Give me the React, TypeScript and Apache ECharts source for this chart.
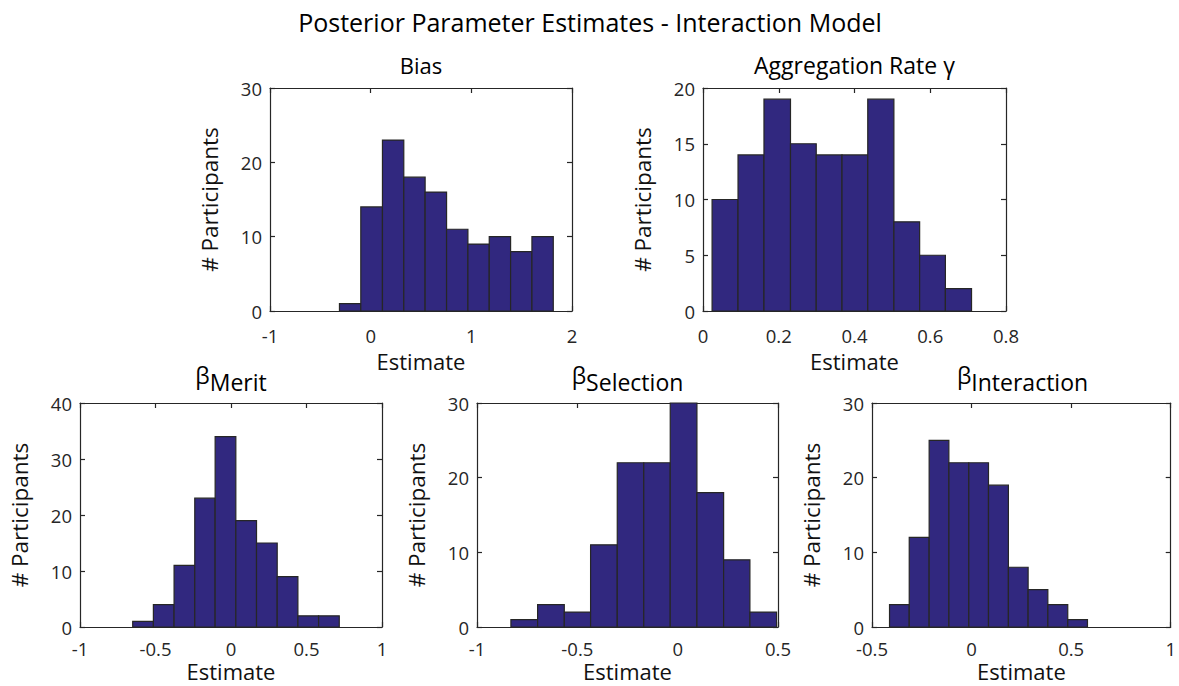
import React, { useEffect, useRef } from "react";
import * as echarts from "echarts";

const FONT = "'Open Sans', 'Noto Sans', sans-serif";
const BAR_FILL = "#31287f";
const BAR_EDGE = "#262626";
const AXIS_COLOR = "#262626";

// Panel titles
const mainTitle = "Posterior Parameter Estimates - Interaction Model";
const panelTitles = ["Bias", "Aggregation Rate γ"];
const betaSubscripts = ["Merit", "Selection", "Interaction"];

// Histogram bin edges and counts
const biasEdges = [-0.31, -0.098, 0.117, 0.329, 0.541, 0.754, 0.966, 1.178, 1.39, 1.602, 1.814];
const biasCounts = [1, 14, 23, 18, 16, 11, 9, 10, 8, 10];

const aggEdges = [0.024, 0.0925, 0.161, 0.231, 0.299, 0.367, 0.435, 0.504, 0.572, 0.64, 0.709];
const aggCounts = [10, 14, 19, 15, 14, 14, 19, 8, 5, 2];

const meritEdges = [-0.651, -0.514, -0.377, -0.24, -0.105, 0.032, 0.169, 0.306, 0.443, 0.58, 0.717];
const meritCounts = [1, 4, 11, 23, 34, 19, 15, 9, 2, 2];

const selectionEdges = [-0.831, -0.698, -0.565, -0.434, -0.301, -0.169, -0.037, 0.096, 0.229, 0.36, 0.493];
const selectionCounts = [1, 3, 2, 11, 22, 22, 30, 18, 9, 2];

const interactionEdges = [-0.412, -0.313, -0.213, -0.114, -0.014, 0.085, 0.185, 0.284, 0.383, 0.483, 0.582];
const interactionCounts = [3, 12, 25, 22, 22, 19, 8, 5, 3, 1];

// Axis ranges
const xRanges = [
  { min: -1, max: 2, interval: 1 },
  { min: 0, max: 0.8, interval: 0.2 },
  { min: -1, max: 1, interval: 0.5 },
  { min: -1, max: 0.5, interval: 0.5 },
  { min: -0.5, max: 1, interval: 0.5 },
];
const yRanges = [
  { min: 0, max: 30, interval: 10 },
  { min: 0, max: 20, interval: 5 },
  { min: 0, max: 40, interval: 10 },
  { min: 0, max: 30, interval: 10 },
  { min: 0, max: 30, interval: 10 },
];

const grids = [
  { left: 270, top: 88, width: 302, height: 223 },
  { left: 703, top: 88, width: 303, height: 223 },
  { left: 80, top: 403, width: 302, height: 224 },
  { left: 477, top: 403, width: 301, height: 224 },
  { left: 872, top: 403, width: 301, height: 224 },
];

const hists = [
  [biasEdges, biasCounts],
  [aggEdges, aggCounts],
  [meritEdges, meritCounts],
  [selectionEdges, selectionCounts],
  [interactionEdges, interactionCounts],
];

function buildOption() {
  const xAxis: any[] = [];
  const yAxis: any[] = [];
  const series: any[] = [];
  grids.forEach((g, i) => {
    const xr = xRanges[i];
    const yr = yRanges[i];
    const lineStyle = { color: AXIS_COLOR, width: 1.2 };
    const bottomRow = i >= 2;
    xAxis.push({
      type: "value",
      gridIndex: i,
      position: "bottom",
      ...xr,
      name: "Estimate",
      nameLocation: "middle",
      nameGap: bottomRow ? 33 : 39,
      nameTextStyle: { fontFamily: FONT, fontSize: 22, color: "#111", lineHeight: 22 },
      axisLine: { show: true, onZero: false, lineStyle },
      axisTick: { show: true, inside: true, length: 5, lineStyle },
      axisLabel: { fontFamily: FONT, fontSize: 18.5, color: AXIS_COLOR, margin: bottomRow ? 12 : 15, lineHeight: 18 },
      splitLine: { show: false },
    });
    xAxis.push({
      type: "value",
      gridIndex: i,
      position: "top",
      ...xr,
      axisLine: { show: true, onZero: false, lineStyle },
      axisTick: { show: true, inside: true, length: 5, lineStyle },
      axisLabel: { show: false },
      splitLine: { show: false },
    });
    yAxis.push({
      type: "value",
      gridIndex: i,
      position: "left",
      ...yr,
      name: "# Participants",
      nameLocation: "middle",
      nameGap: 49,
      nameTextStyle: { fontFamily: FONT, fontSize: 22.5, color: "#111" },
      axisLine: { show: true, onZero: false, lineStyle },
      axisTick: { show: true, inside: true, length: 5, lineStyle },
      axisLabel: { fontFamily: FONT, fontSize: 18.5, color: AXIS_COLOR, margin: 8 },
      splitLine: { show: false },
    });
    yAxis.push({
      type: "value",
      gridIndex: i,
      position: "right",
      ...yr,
      axisLine: { show: true, onZero: false, lineStyle },
      axisTick: { show: true, inside: true, length: 5, lineStyle },
      axisLabel: { show: false },
      splitLine: { show: false },
    });
    const [edges, counts] = hists[i];
    const data = counts.map((c, k) => [edges[k], edges[k + 1], c]);
    series.push({
      type: "custom",
      xAxisIndex: 2 * i,
      yAxisIndex: 2 * i,
      data,
      encode: { x: [0, 1], y: 2 },
      renderItem: (params: any, api: any) => {
        const p0 = api.coord([api.value(0), 0]);
        const p1 = api.coord([api.value(1), api.value(2)]);
        return {
          type: "rect",
          shape: { x: p0[0], y: p1[1], width: p1[0] - p0[0], height: p0[1] - p1[1] },
          style: { fill: BAR_FILL, stroke: BAR_EDGE, lineWidth: 1.2 },
        };
      },
      z: 1,
    });
  });

  const graphic: any[] = [
    {
      type: "text",
      x: 590,
      y: 22,
      style: {
        text: mainTitle,
        font: `25px ${FONT}`,
        fill: "#000",
        textAlign: "center",
        textVerticalAlign: "middle",
      },
    },
  ];
  panelTitles.forEach((t, i) => {
    const g = grids[i];
    graphic.push({
      type: "text",
      x: g.left + g.width / 2,
      y: 65,
      style: {
        text: t,
        font: `${i === 0 ? 22 : 23}px ${FONT}`,
        fill: "#000",
        textAlign: "center",
        textVerticalAlign: "middle",
      },
    });
  });
  betaSubscripts.forEach((s, j) => {
    const g = grids[j + 2];
    graphic.push({
      type: "text",
      x: g.left + g.width / 2,
      y: 378,
      style: {
        text: `{b|β}{s|${s}}`,
        textAlign: "center",
        textVerticalAlign: "middle",
        rich: {
          b: { fontFamily: FONT, fontSize: 23, fill: "#000", verticalAlign: "top", lineHeight: 30 },
          s: { fontFamily: FONT, fontSize: 23, fill: "#000", verticalAlign: "bottom", lineHeight: 30 },
        },
      },
    });
  });

  return {
    animation: false,
    backgroundColor: "#fff",
    grid: grids.map((g) => ({ ...g, containLabel: false, show: false })),
    xAxis,
    yAxis,
    series,
    graphic,
  };
}

export default function App() {
  const ref = useRef<HTMLDivElement>(null);
  useEffect(() => {
    if (!ref.current) return;
    const chart = echarts.init(ref.current, undefined, { renderer: "svg" });
    chart.setOption(buildOption() as any);
    return () => chart.dispose();
  }, []);
  return (
    <div
      ref={ref}
      style={{ position: "fixed", left: 0, top: 0, width: 1179, height: 686, background: "#fff" }}
    />
  );
}
